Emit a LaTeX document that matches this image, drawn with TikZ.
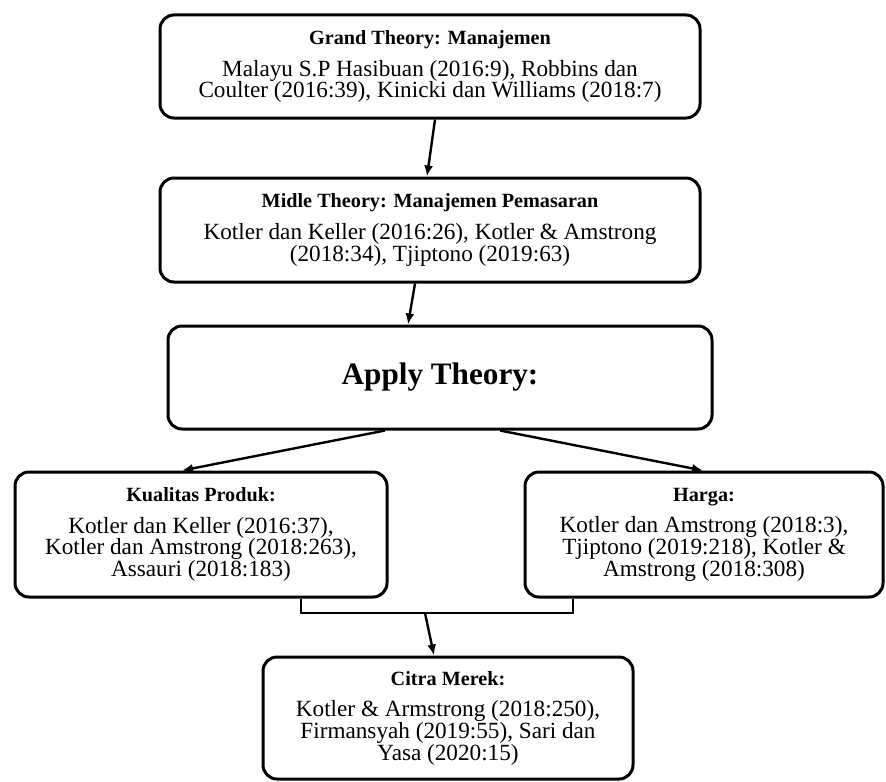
\documentclass[tikz,border=0pt]{standalone}
\usepackage{fontspec}
\setmainfont{Liberation Serif}
\usepackage{tikz}
\usetikzlibrary{shapes,arrows,arrows.meta,positioning,fit}

\tikzset{
  theory/.style={draw, rounded corners=7pt, line width=1.5pt, align=center,
    inner sep=0pt, font=\fontsize{11.6}{10.85}\selectfont},
  link/.style={->, line width=1.2pt},
}
\newcommand{\hd}[1]{{\fontsize{10.1}{12}\selectfont\bfseries #1}\\[5pt]}

\begin{document}
\begin{tikzpicture}[x=0.5pt,y=-0.5pt,>={Latex[length=5.5pt,width=4.5pt]}]
    \useasboundingbox (0,0) rectangle (886,781);
    %
    \node[theory, minimum width=270pt, minimum height=51.5pt] (grand) at (430,66.5)
      {\hd{Grand Theory: Manajemen}Malayu S.P Hasibuan (2016:9), Robbins dan\\Coulter (2016:39), Kinicki dan Williams (2018:7)};
    \node[theory, minimum width=270pt, minimum height=52pt] (midle) at (430,230)
      {\hd{Midle Theory: Manajemen Pemasaran}Kotler dan Keller (2016:26), Kotler \& Amstrong\\(2018:34), Tjiptono (2019:63)};
    \node[theory, minimum width=272pt, minimum height=51.5pt] (apply) at (440,377.5)
      {{\fontsize{15.6}{17}\selectfont\bfseries Apply Theory:}};
    %
    \node[theory, minimum width=186pt, minimum height=62.5pt] (kualitas) at (201,534.5)
      {\hd{Kualitas Produk:}Kotler dan Keller (2016:37),\\Kotler dan Amstrong (2018:263),\\Assauri (2018:183)};
    \node[theory, minimum width=179pt, minimum height=62.5pt] (harga) at (704,534.5)
      {\hd{Harga:}Kotler dan Amstrong (2018:3),\\Tjiptono (2019:218), Kotler \&\\Amstrong (2018:308)};
    \node[theory, minimum width=185pt, minimum height=61pt] (citra) at (448,718)
      {\hd{Citra Merek:}Kotler \& Armstrong (2018:250),\\Firmansyah (2019:55), Sari dan\\Yasa (2020:15)};
    %
    \draw[link] ([xshift=2.5pt]grand.south) -- ([xshift=-1.5pt]midle.north);
    \draw[link] ([xshift=-7.5pt]midle.south) -- ([xshift=-16pt]apply.north);
    \draw[link] ([xshift=-27.5pt]apply.south) -- ([xshift=-9.5pt]kualitas.north);
    \draw[link] ([xshift=30pt]apply.south) -- ([xshift=-0.5pt]harga.north);
    %
    \coordinate (join) at (425,613);
    \draw[line width=0.8pt] ([xshift=50pt]kualitas.south) |- (join) -| ([xshift=-65.5pt]harga.south);
    \draw[link] (join) -- ([xshift=-7pt]citra.north);
\end{tikzpicture}
\end{document}
